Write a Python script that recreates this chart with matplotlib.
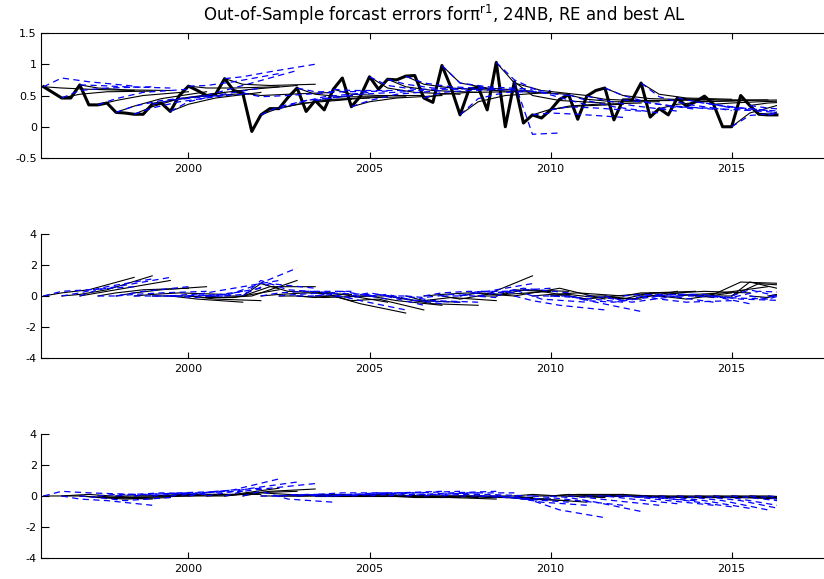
import numpy as np
import matplotlib.pyplot as plt
from matplotlib.patches import Rectangle

plt.rcParams['font.family'] = ['DejaVu Sans']
plt.rcParams['axes.unicode_minus'] = False

# quarterly sample 1996Q1 .. 2016Q2
start_year = 1996.0
sample_end = 2016.25
actual = [0.64, 0.55, 0.46, 0.46, 0.67, 0.35, 0.35, 0.38,
          0.23, 0.22, 0.20, 0.20, 0.36, 0.38, 0.245, 0.50,
          0.65, 0.58, 0.50, 0.52, 0.77, 0.58, 0.54, -0.075,
          0.19, 0.29, 0.29, 0.47, 0.62, 0.245, 0.42, 0.27,
          0.60, 0.78, 0.32, 0.49, 0.80, 0.60, 0.76, 0.75,
          0.81, 0.82, 0.46, 0.39, 0.98, 0.63, 0.19, 0.60,
          0.635, 0.27, 1.03, 0.0, 0.72, 0.06, 0.19, 0.14,
          0.27, 0.44, 0.51, 0.12, 0.49, 0.58, 0.62, 0.11,
          0.43, 0.43, 0.70, 0.155, 0.29, 0.19, 0.46, 0.33,
          0.40, 0.49, 0.36, 0.0, 0.0, 0.50, 0.34, 0.20,
          0.19, 0.19]

# forecast origins every 2 quarters, values at horizons 2, 5 and 10 quarters
origin_step = 2
horizons = [0, 2, 5, 10]
nan = np.nan

re_top = [(0.62, 0.60, 0.58), (0.52, 0.56, 0.57), (0.62, 0.59, 0.58), (0.42, 0.50, 0.56),
          (0.33, 0.45, 0.56), (0.32, 0.45, 0.55), (0.42, 0.48, 0.53), (0.36, 0.46, 0.55),
          (0.62, 0.62, 0.64), (0.55, 0.60, 0.66), (0.68, 0.66, 0.68), (0.50, 0.52, 0.55),
          (0.30, 0.38, 0.44), (0.36, 0.42, 0.46), (0.52, 0.48, 0.48), (0.44, 0.46, 0.48),
          (0.52, 0.50, 0.50), (0.40, 0.46, 0.50), (0.62, 0.55, 0.52), (0.64, 0.58, 0.55),
          (0.68, 0.62, 0.58), (0.52, 0.55, 0.56), (0.70, 0.62, 0.57), (0.40, 0.50, 0.55),
          (0.58, 0.56, 0.52), (0.70, 0.58, 0.50), (0.50, 0.42, 0.38), (0.28, 0.33, 0.36),
          (0.33, 0.36, 0.38), (0.44, 0.40, 0.40), (0.44, 0.42, 0.42), (0.50, 0.45, 0.43),
          (0.42, 0.42, 0.43), (0.52, 0.46, 0.44), (0.36, 0.40, 0.42), (0.44, 0.43, 0.43),
          (0.41, 0.42, 0.43), (0.38, 0.40, 0.42), (0.22, 0.34, 0.40), (0.38, 0.40, 0.42),
          (0.28, 0.35, 0.40)]

al_top = [(0.78, 0.72, 0.65), (0.58, 0.62, 0.64), (0.66, 0.64, 0.62), (0.45, 0.55, 0.60),
          (0.33, 0.42, 0.50), (0.30, 0.40, 0.50), (0.42, 0.47, 0.52), (0.40, 0.50, 0.62),
          (0.66, 0.72, 0.85), (0.58, 0.70, 0.90), (0.80, 0.88, 1.00), (0.48, 0.50, 0.55),
          (0.32, 0.42, 0.50), (0.38, 0.48, 0.55), (0.56, 0.56, 0.57), (0.46, 0.52, 0.56),
          (0.58, 0.58, 0.58), (0.42, 0.52, 0.58), (0.66, 0.60, 0.60), (0.68, 0.62, 0.60),
          (0.70, 0.64, 0.60), (0.55, 0.58, 0.60), (0.70, 0.64, 0.60), (0.45, 0.55, 0.58),
          (0.60, 0.58, 0.50), (0.75, 0.55, 0.35), (-0.12, -0.10, nan), (0.22, 0.20, 0.15),
          (0.32, 0.30, 0.25), (0.42, 0.32, 0.22), (0.42, 0.34, 0.25), (0.50, 0.38, 0.28),
          (0.40, 0.34, 0.28), (0.48, 0.36, 0.26), (0.32, 0.30, 0.26), (0.40, 0.33, 0.26),
          (0.36, 0.30, 0.24), (0.30, 0.25, 0.20), (0.18, 0.22, 0.20), (0.30, 0.26, 0.22),
          (0.22, 0.22, 0.20)]

re_mid = [(0.2, 0.4, 1.2), (0.1, 0.4, 1.3), (0.2, 0.5, 1.0), (0.2, 0.4, 0.5),
          (0.2, 0.4, 0.6), (0.1, 0.2, 0.1), (0.0, -0.2, -0.4), (0.0, -0.2, -0.3),
          (-0.1, -0.1, 0.4), (-0.1, 0.0, 1.0), (0.0, 0.6, 0.6), (0.8, 0.3, 0.2),
          (0.1, 0.2, 0.1), (0.0, -0.1, 0.0), (-0.1, 0.1, -0.4), (0.0, -0.5, -1.1),
          (-0.3, -0.2, -0.9), (0.0, -0.3, -0.6), (0.0, -0.3, -0.4), (-0.2, -0.5, -0.6),
          (-0.3, -0.1, -0.3), (0.1, 0.2, 0.0), (-0.2, 0.1, 1.3), (0.2, 0.1, 0.3),
          (0.0, 0.4, 0.3), (0.4, 0.3, -0.2), (0.2, 0.5, -0.2), (0.1, 0.2, 0.0),
          (0.1, -0.1, -0.2), (-0.2, 0.0, 0.2), (0.0, -0.2, 0.3), (-0.2, 0.2, 0.3),
          (0.2, 0.2, -0.1), (0.0, -0.2, 0.2), (0.2, 0.3, 0.2), (0.1, 0.2, 0.6),
          (0.1, 0.9, 0.8), (0.0, 0.8, 0.6), (0.9, 0.5, 0.7), (-0.1, 0.4, 0.6),
          (0.2, 0.3, 0.3)]

al_mid = [(0.3, 0.4, 0.6), (0.2, 0.6, 1.1), (0.4, 0.7, 1.2), (0.0, 0.3, 0.6),
          (0.1, 0.2, 0.3), (0.0, 0.0, 0.1), (0.0, -0.1, 0.3), (0.1, 0.0, 0.5),
          (0.2, 0.5, 1.0), (0.0, 0.6, 1.8), (0.1, 0.8, 0.5), (1.0, 0.4, 0.2),
          (0.2, 0.3, 0.3), (0.1, 0.2, 0.1), (0.0, 0.3, -0.2), (0.1, -0.3, -0.9),
          (-0.1, 0.1, -0.6), (0.2, -0.1, -0.5), (0.1, -0.3, -0.4), (0.0, -0.3, -0.4),
          (-0.1, 0.1, -0.1), (0.2, 0.3, 0.2), (0.0, 0.3, 0.8), (0.3, 0.3, 0.5),
          (0.2, 0.5, 0.2), (0.4, -0.2, -0.4), (-0.3, -0.6, -0.9), (0.0, -0.1, -0.4),
          (0.0, -0.4, -1.0), (-0.3, -0.4, 0.0), (-0.1, -0.4, 0.0), (-0.3, 0.1, 0.1),
          (0.1, 0.0, -0.4), (-0.2, -0.4, -0.3), (0.1, 0.1, -0.5), (0.0, -0.1, -0.2),
          (0.0, -0.2, -0.3), (-0.1, 0.3, 0.2), (0.4, 0.0, 0.3), (-0.2, 0.3, 0.3),
          (0.0, 0.0, 0.0)]

re_bot = [(0.0, 0.1, -0.1), (0.0, -0.1, -0.2), (-0.1, -0.2, -0.1), (-0.1, -0.1, 0.0),
          (0.0, 0.0, 0.1), (0.0, 0.1, 0.1), (0.0, 0.1, 0.1), (0.0, 0.1, 0.1),
          (0.0, 0.1, 0.5), (0.0, 0.2, 0.3), (0.1, 0.3, 0.45), (0.2, 0.1, 0.0),
          (0.0, 0.0, 0.1), (0.0, 0.1, 0.0), (0.0, 0.0, 0.1), (0.0, 0.0, 0.0),
          (0.0, 0.1, 0.0), (0.0, 0.0, -0.1), (0.0, -0.1, -0.1), (0.0, 0.0, -0.1),
          (0.0, -0.1, -0.2), (0.0, 0.0, -0.1), (0.0, -0.1, -0.1), (0.0, -0.1, -0.2),
          (0.0, -0.2, -0.3), (0.0, -0.2, -0.4), (0.1, 0.0, -0.1), (0.0, 0.1, 0.1),
          (0.1, 0.0, 0.0), (0.0, 0.0, -0.1), (0.0, 0.0, 0.0), (0.1, 0.0, -0.1),
          (0.0, -0.1, -0.1), (0.0, -0.1, -0.1), (0.0, -0.1, -0.1), (0.0, -0.1, -0.1),
          (0.0, -0.1, -0.2), (0.0, -0.1, -0.2), (0.0, -0.1, -0.2), (0.0, -0.1, -0.1),
          (0.0, 0.0, 0.0)]

al_bot = [(0.3, 0.2, 0.1), (-0.2, -0.3, -0.6), (-0.1, -0.3, -0.1), (0.1, 0.1, 0.2),
          (0.1, 0.2, 0.1), (0.1, 0.2, 0.3), (0.1, 0.2, 0.3), (0.1, 0.3, 0.5),
          (0.2, 0.4, 1.1), (0.2, 0.5, 0.9), (0.3, 0.5, 0.8), (0.3, -0.2, -0.4),
          (0.0, 0.1, 0.1), (0.1, 0.0, 0.1), (0.1, 0.2, 0.2), (0.0, 0.1, 0.2),
          (0.1, 0.2, 0.2), (0.1, 0.2, 0.3), (0.1, 0.2, 0.3), (0.1, 0.1, 0.2),
          (0.1, 0.2, 0.3), (0.1, 0.2, 0.2), (0.1, 0.1, 0.0), (0.0, -0.1, -0.2),
          (0.0, -0.2, -0.4), (-0.1, -0.4, -0.6), (-0.3, -0.9, -1.4), (-0.1, -0.3, -0.6),
          (-0.1, -0.4, -1.0), (-0.1, -0.3, -0.6), (0.0, -0.2, -0.5), (0.0, -0.1, -0.3),
          (-0.1, -0.3, -0.6), (-0.1, -0.3, -0.7), (-0.1, -0.3, -0.8), (-0.1, -0.3, -0.9),
          (-0.1, -0.3, -0.9), (-0.1, -0.4, -0.9), (-0.1, -0.3, -0.8), (-0.1, -0.4, -0.7),
          (-0.1, -0.3, -0.6)]

year_ticks = [2000, 2005, 2010, 2015]
top_yticks = [-0.5, 0, 0.5, 1, 1.5]
err_yticks = [-4, -2, 0, 2, 4]


def quarter_time(i):
    return start_year + i / 4.0


def draw_paths(ax, paths, first_values, **style):
    # forecasts stop at the end of the sample
    clip = Rectangle((1990, -10), sample_end - 1990, 20, transform=ax.transData)
    for k, vals in enumerate(paths):
        i0 = k * origin_step
        t = [quarter_time(i0 + h) for h in horizons]
        y = [first_values[k]] + list(vals)
        line, = ax.plot(t, y, **style)
        line.set_clip_path(clip)


def style_axes(ax, yticks, box):
    ax.set_xlim(1995.93, 2017.55)
    ax.set_ylim(yticks[0], yticks[-1])
    ax.set_xticks(year_ticks)
    ax.set_yticks(yticks)
    ax.set_yticklabels(['%g' % v for v in yticks])
    ax.tick_params(axis='x', direction='in', length=4.5, width=0.8,
                   labelsize=8, pad=4, top=box)
    ax.tick_params(axis='y', direction='in', length=5.5, width=0.8,
                   labelsize=8, pad=3)
    ax.spines['right'].set_visible(False)
    ax.spines['top'].set_visible(box)
    for s in ax.spines.values():
        s.set_linewidth(0.8)


fig = plt.figure(figsize=(8.24, 5.79), dpi=100)
ax_top = fig.add_axes([0.0498, 0.7271, 0.9502, 0.2159])
ax_mid = fig.add_axes([0.0498, 0.3817, 0.9502, 0.2142])
ax_bot = fig.add_axes([0.0498, 0.0363, 0.9502, 0.2142])

n_orig = len(re_top)
origin_actual = [actual[k * origin_step] for k in range(n_orig)]
zeros = [0.0] * n_orig

thin = dict(color='black', lw=0.8)
dashed = dict(color='#0000ff', lw=0.9, linestyle=(0, (5, 3.5)))

quarters = [quarter_time(i) for i in range(len(actual))]
ax_top.plot(quarters, actual, color='black', lw=2.2)
draw_paths(ax_top, re_top, origin_actual, **thin)
draw_paths(ax_top, al_top, origin_actual, **dashed)
style_axes(ax_top, top_yticks, True)

draw_paths(ax_mid, re_mid, zeros, **thin)
draw_paths(ax_mid, al_mid, zeros, **dashed)
style_axes(ax_mid, err_yticks, False)

draw_paths(ax_bot, re_bot, zeros, **thin)
draw_paths(ax_bot, al_bot, zeros, **dashed)
style_axes(ax_bot, err_yticks, False)

fig.text(0.539, 0.974, r'Out-of-Sample forcast errors for$\mathrm{\pi}^{\mathrm{r1}}$, 24NB, RE and best AL',
         ha='center', va='center', fontsize=12)

fig.savefig('out.png', dpi=100)
